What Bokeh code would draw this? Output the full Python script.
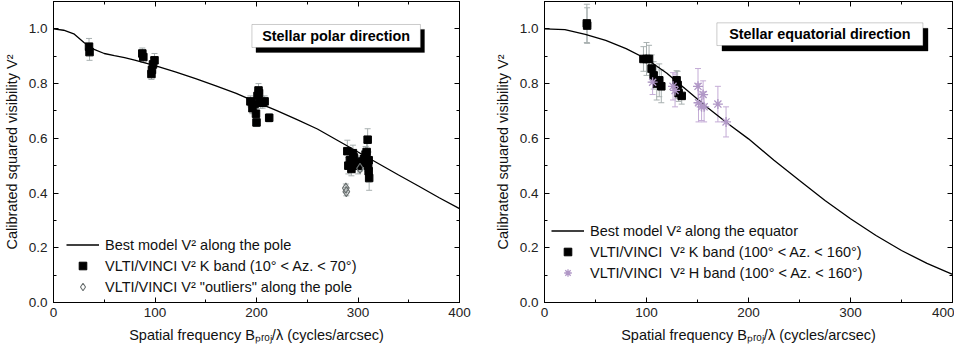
from bokeh.plotting import figure
from bokeh.models import (ColumnDataSource, Whisker, TeeHead, LinearAxis, SingleIntervalTicker,
                          Range1d, Legend, LegendItem, BoxAnnotation, Label,
                          PrintfTickFormatter, CustomLabelingPolicy)
from bokeh.layouts import row
from bokeh.embed import file_html
from bokeh.resources import INLINE

# ---------------- data: polar direction ----------------
pole_model_x = [0, 10, 20, 30, 40, 50, 60, 70, 80, 90, 100, 120, 140, 160, 180, 200,
                220, 240, 260, 280, 300, 320, 340, 360, 380, 400]
pole_model_v = [1.0, 0.995, 0.982, 0.95, 0.925, 0.91, 0.902, 0.895, 0.886, 0.876, 0.866,
                0.843, 0.818, 0.792, 0.764, 0.732, 0.701, 0.668, 0.634, 0.592, 0.55,
                0.508, 0.466, 0.425, 0.383, 0.343]

pole_k_x = [35, 35.5, 87.5, 88.5, 96.5, 97, 98, 99.5,
            194, 196, 198, 199.5, 200, 201, 202, 202.5, 204, 206, 208, 212.5,
            289.5, 290.5, 292, 293.5, 295, 296, 298, 300, 302, 304, 306, 307.5,
            308.5, 309.5, 310, 310.5, 311, 310.5, 309]
pole_k_v = [0.935, 0.915, 0.91, 0.897, 0.835, 0.85, 0.87, 0.885,
            0.735, 0.71, 0.725, 0.69, 0.658, 0.755, 0.775, 0.765, 0.73, 0.73, 0.735, 0.675,
            0.553, 0.50, 0.52, 0.488, 0.545, 0.53, 0.51, 0.50, 0.51, 0.515, 0.525, 0.54,
            0.55, 0.595, 0.50, 0.48, 0.455, 0.52, 0.51]
pole_k_err = [0.03, 0.03, 0.02, 0.02, 0.02, 0.025, 0.025, 0.025,
              0.02, 0.02, 0.02, 0.02, 0.015, 0.02, 0.025, 0.02, 0.02, 0.02, 0.02, 0.015,
              0.04, 0.03, 0.03, 0.025, 0.03, 0.03, 0.025, 0.03, 0.025, 0.03, 0.03, 0.03,
              0.035, 0.04, 0.035, 0.04, 0.045, 0.03, 0.03]

pole_out_x = [288, 288.5, 302]
pole_out_v = [0.418, 0.405, 0.49]
pole_out_err = [0.015, 0.015, 0.01]

# ---------------- data: equatorial direction ----------------
eq_model_x = [0, 20, 40, 60, 80, 100, 120, 130, 140, 160, 180, 200, 225, 250, 275,
              300, 325, 350, 375, 400]
eq_model_v = [1.0, 0.997, 0.98, 0.958, 0.928, 0.89, 0.838, 0.806, 0.775, 0.712, 0.653,
              0.598, 0.52, 0.446, 0.373, 0.306, 0.245, 0.19, 0.143, 0.103]

eq_k_x = [41.5, 41.8, 97, 100, 102.5, 105, 107, 110, 112.5, 114.5, 129.5, 130.5, 131.5, 134.5]
eq_k_v = [1.02, 1.012, 0.89, 0.89, 0.89, 0.855, 0.83, 0.80, 0.812, 0.79, 0.812, 0.795,
          0.765, 0.755]
eq_k_err = [0.07, 0.065, 0.045, 0.06, 0.05, 0.05, 0.05, 0.06, 0.06, 0.06, 0.035, 0.05,
            0.03, 0.03]

eq_h_x = [106, 126, 128, 150.5, 151, 154, 156.5, 155.5, 170, 178]
eq_h_v = [0.805, 0.79, 0.775, 0.79, 0.73, 0.715, 0.715, 0.76, 0.725, 0.66]
eq_h_err = [0.045, 0.05, 0.06, 0.065, 0.07, 0.05, 0.055, 0.05, 0.065, 0.055]

x_label = "Spatial frequency B\u209a\u1d63\u2092\u2c7c/\u03bb (cycles/arcsec)"
y_label = "Calibrated squared visibility V\u00b2"

FONT = "Liberation Sans"
ERR_GRAY = "#a8b0b0"
H_COLOR = "#b097c6"
H_ERR = "#c4acd6"


def make_fig(width, min_left, min_right, ylab_standoff):
    p = figure(width=width, height=350, output_backend="svg", toolbar_location=None,
               x_range=Range1d(0, 400), y_range=Range1d(0, 1.1),
               min_border_left=min_left, min_border_right=min_right,
               min_border_top=1, min_border_bottom=48,
               x_axis_label=x_label, y_axis_label=y_label)
    p.xgrid.visible = False
    p.ygrid.visible = False
    p.outline_line_color = "black"
    p.outline_line_width = 1
    p.background_fill_color = "white"
    p.border_fill_color = "white"
    xt = SingleIntervalTicker(interval=100, num_minor_ticks=2)
    yt = SingleIntervalTicker(interval=0.2, num_minor_ticks=2)
    p.xaxis.ticker = xt
    p.yaxis.ticker = yt
    p.yaxis.formatter = PrintfTickFormatter(format="%.1f")
    for ax in p.xaxis + p.yaxis:
        ax.major_tick_in = 5
        ax.major_tick_out = 0
        ax.minor_tick_in = 3
        ax.minor_tick_out = 0
        ax.axis_line_color = "black"
        ax.major_label_text_font = FONT
        ax.major_label_text_font_size = "13.5px"
        ax.major_label_text_color = "#222222"
        ax.axis_label_text_font = FONT
        ax.axis_label_text_font_size = "14.5px"
        ax.axis_label_text_font_style = "normal"
        ax.axis_label_text_color = "#111111"
        ax.major_label_standoff = 5
    p.yaxis.major_label_standoff = 6
    p.yaxis.axis_label_standoff = ylab_standoff
    p.xaxis.axis_label_standoff = 7
    # mirror axes (ticks only)
    for loc, tk in (("right", yt), ("above", xt)):
        ax = LinearAxis(ticker=tk, major_label_text_font_size="0px",
                        major_label_standoff=0, major_tick_in=5, major_tick_out=0,
                        minor_tick_in=3, minor_tick_out=0, axis_line_color="black",
                        major_label_policy=CustomLabelingPolicy(
                            code="for (const i of indices) { indices.unset(i) }\nreturn indices"))
        p.add_layout(ax, loc)
    return p


def add_box(p, x0, x1, y0, y1, dx, dy, text):
    shadow = BoxAnnotation(left=x0 + dx, right=x1 + dx, bottom=y0 - dy, top=y1 - dy,
                           fill_color="black", fill_alpha=1, line_color="black",
                           level="overlay")
    box = BoxAnnotation(left=x0, right=x1, bottom=y0, top=y1, fill_color="white",
                        fill_alpha=1, line_color="#555555", line_width=1, level="overlay")
    p.add_layout(shadow)
    p.add_layout(box)
    lab = Label(x=(x0 + x1) / 2, y=(y0 + y1) / 2, text=text, text_align="center",
                text_baseline="middle", text_font=FONT, text_font_style="bold",
                text_font_size="14.4px", text_color="black", level="overlay")
    p.add_layout(lab)


def errbars(p, x, v, e, color):
    src = ColumnDataSource(dict(x=x, lo=[a - b for a, b in zip(v, e)],
                                hi=[a + b for a, b in zip(v, e)]))
    w = Whisker(source=src, base="x", lower="lo", upper="hi", line_color=color,
                line_width=1, level="underlay",
                upper_head=TeeHead(size=6, line_color=color, line_width=1),
                lower_head=TeeHead(size=6, line_color=color, line_width=1))
    p.add_layout(w)


# ---------------- left panel ----------------
p1 = make_fig(480, 51, 21, 6)
errbars(p1, pole_k_x, pole_k_v, pole_k_err, ERR_GRAY)
errbars(p1, pole_out_x, pole_out_v, pole_out_err, ERR_GRAY)
r_line1 = p1.line(pole_model_x, pole_model_v, line_color="black", line_width=1.3)
r_k1 = p1.scatter(pole_k_x, pole_k_v, marker="square", size=7.5, fill_color="black",
                  line_color="black")
r_out1 = p1.scatter(pole_out_x, pole_out_v, marker="diamond", size=10, fill_color=None,
                    line_color="#6a7070", line_width=1.1)
leg1 = Legend(items=[
    LegendItem(label="Best model V\u00b2 along the pole", renderers=[r_line1]),
    LegendItem(label="VLTI/VINCI V\u00b2 K band (10\u00b0 < Az. < 70\u00b0)", renderers=[r_k1]),
    LegendItem(label="VLTI/VINCI V\u00b2 \"outliers\" along the pole", renderers=[r_out1]),
], location=(13, 6), padding=0, margin=0, spacing=2, glyph_width=33, glyph_height=19,
    label_height=19, label_standoff=6, label_text_font=FONT, label_text_font_size="14.5px",
    label_text_color="#111111", background_fill_alpha=0, border_line_alpha=0)
p1.add_layout(leg1)
add_box(p1, 195.5, 361.5, 0.932, 1.016, 4, 0.018, "Stellar polar direction")

# ---------------- right panel ----------------
p2 = make_fig(474, 64, 2, 6)
errbars(p2, eq_k_x, eq_k_v, eq_k_err, ERR_GRAY)
errbars(p2, eq_h_x, eq_h_v, eq_h_err, H_ERR)
r_line2 = p2.line(eq_model_x, eq_model_v, line_color="black", line_width=1.3)
r_k2 = p2.scatter(eq_k_x, eq_k_v, marker="square", size=7.5, fill_color="black",
                  line_color="black")
r_h2 = p2.scatter(eq_h_x, eq_h_v, marker="asterisk", size=10, line_color=H_COLOR,
                  line_width=1.3)
leg2 = Legend(items=[
    LegendItem(label="Best model V\u00b2 along the equator", renderers=[r_line2]),
    LegendItem(label="VLTI/VINCI  V\u00b2 K band (100\u00b0 < Az. < 160\u00b0)", renderers=[r_k2]),
    LegendItem(label="VLTI/VINCI  V\u00b2 H band (100\u00b0 < Az. < 160\u00b0)", renderers=[r_h2]),
], location=(7, 20), padding=0, margin=0, spacing=2, glyph_width=33, glyph_height=19,
    label_height=19, label_standoff=6, label_text_font=FONT, label_text_font_size="14.5px",
    label_text_color="#111111", background_fill_alpha=0, border_line_alpha=0)
p2.add_layout(leg2)
add_box(p2, 169, 371, 0.939, 1.022, 5, 0.02, "Stellar equatorial direction")

layout = row(p1, p2)
open("out.html", "w").write(file_html(layout, INLINE))
